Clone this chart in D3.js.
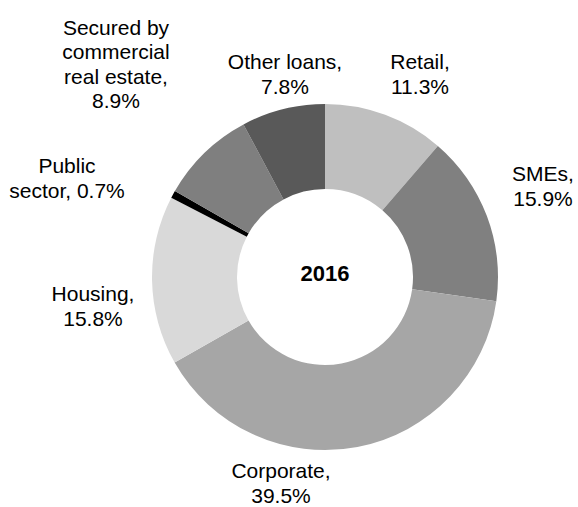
<!DOCTYPE html>
<html>
<head>
<meta charset="utf-8">
<script src="https://cdn.jsdelivr.net/npm/d3@7"></script>
<style>
  body { margin: 0; background: #fff; }
  text { font-family: "Liberation Sans", Arial, sans-serif; fill: #000; }
</style>
</head>
<body>
<div id="chart"></div>
<script>
// data, clockwise from 12 o'clock
var categories = ["Retail", "SMEs", "Corporate", "Housing", "Public sector", "Secured by commercial real estate", "Other loans"];
var shares = [11.3, 15.9, 39.5, 15.8, 0.7, 8.9, 7.8];
var year = "2016";

// label lines as they are wrapped in the picture
var labelLines = [
    ["Retail,", "11.3%"],
    ["SMEs,", "15.9%"],
    ["Corporate,", "39.5%"],
    ["Housing,", "15.8%"],
    ["Public", "sector, 0.7%"],
    ["Secured by", "commercial", "real estate,", "8.9%"],
    ["Other loans,", "7.8%"]
];

var width = 578,
    height = 507,
    cx = 325,
    cy = 277,
    outerR = 173,
    innerR = 88,
    lineH = 24.5;

var colors = d3.scaleOrdinal()
    .domain(categories)
    .range(["#bfbfbf", "#808080", "#a6a6a6", "#d9d9d9", "#000000", "#7f7f7f", "#595959"]);

// label box centres, offset from pie centre (layout only)
var labelOffset = [
    [95, -203], [218, -91], [-44, 206], [-232, 29], [-258, -99], [-209, -213], [-40, -203]
];

var svg = d3.select("#chart").append("svg")
    .attr("width", width)
    .attr("height", height);

var g = svg.append("g")
    .attr("transform", "translate(" + cx + "," + cy + ")");

var pie = d3.pie().sort(null).value(function (d) { return d; });
var arc = d3.arc().innerRadius(innerR).outerRadius(outerR);

var arcs = pie(shares);

g.selectAll(".slice")
    .data(arcs)
    .enter().append("path")
    .attr("class", "slice")
    .attr("d", arc)
    .style("fill", function (d, i) { return colors(categories[i]); });

g.append("text")
    .attr("x", 0)
    .attr("y", -4)
    .attr("dy", ".35em")
    .attr("text-anchor", "middle")
    .style("font-size", "22px")
    .style("font-weight", "bold")
    .text(year);

var label = g.selectAll(".label")
    .data(arcs)
    .enter().append("text")
    .attr("class", "label")
    .attr("text-anchor", "middle")
    .style("font-size", "21px");

label.each(function (d, i) {
    var lines = labelLines[i],
        off = labelOffset[i],
        top = off[1] - (lines.length - 1) * lineH / 2;
    d3.select(this).selectAll("tspan")
        .data(lines)
        .enter().append("tspan")
        .attr("x", off[0])
        .attr("y", function (l, j) { return top + j * lineH; })
        .attr("dy", ".35em")
        .text(function (l) { return l; });
});
</script>
</body>
</html>
